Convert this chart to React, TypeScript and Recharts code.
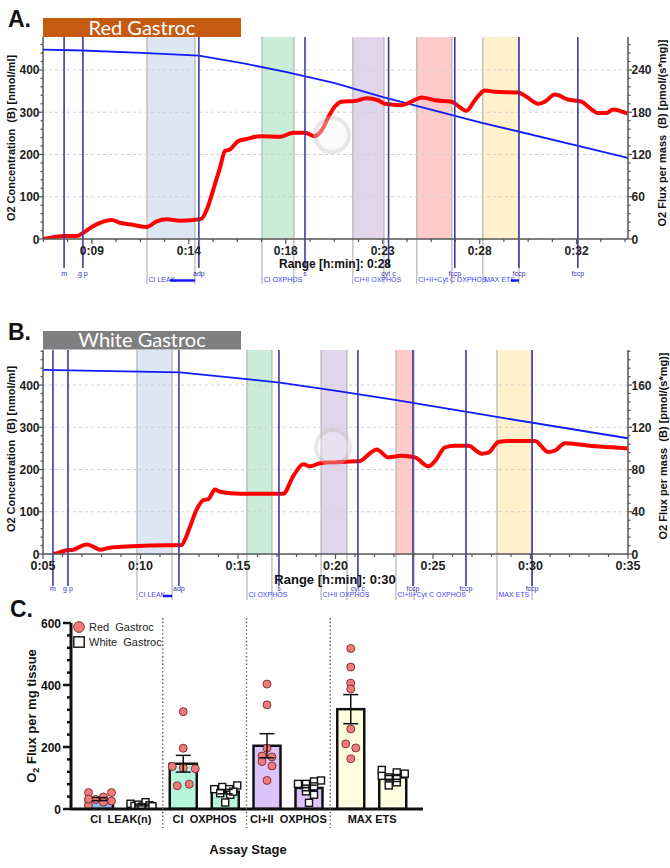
import React from 'react';
import {
  Bar,
  BarChart,
  ComposedChart,
  ErrorBar,
  Legend,
  Line,
  ReferenceArea,
  ReferenceLine,
  XAxis,
  YAxis,
} from 'recharts';

const FONT = '"Liberation Sans", Arial, sans-serif';

// ---------- Panel A: Red Gastroc trace (time in minutes) ----------
const fluxTimeA = [6.67, 7.15, 7.63, 8.27, 8.59, 8.99, 9.39, 9.95, 10.34, 10.98, 11.62, 12.1, 12.58, 13.22, 13.85, 14.25, 14.49, 14.81, 15.13, 15.37, 15.61, 15.77, 16.0, 16.41, 17.04, 18.0, 18.64, 19.2, 19.67, 19.99, 20.39, 20.63, 20.95, 21.59, 22.15, 22.7, 23.02, 23.82, 24.3, 24.78, 25.42, 26.22, 26.61, 26.93, 27.33, 27.81, 28.29, 29.4, 29.8, 30.36, 30.68, 31.16, 31.79, 32.43, 32.75, 33.23, 33.63, 33.95, 34.27, 34.64];
const fluxA = [0, 2.4, 4.2, 4.2, 9, 17, 23, 27, 23, 20, 17, 25, 28, 26, 27, 29, 41, 70, 101, 125, 127, 132, 139, 142, 146, 145, 151, 151, 146, 154, 177, 188, 195, 196, 200, 197, 192, 190, 195, 201, 197, 195, 187, 182, 197, 211, 209, 208, 202, 192, 195, 205, 198, 195, 188, 179, 179, 184, 182, 178];
const o2TimeA = [6.66, 8.57, 11.64, 14.12, 16.2, 18.33, 20.63, 22.93, 27.67, 34.66];
const o2A = [448, 446, 440, 434, 416, 395, 369, 336, 275, 192];
const xMajorA = [9, 13.64, 18.28, 22.92, 27.56, 32.2];
const xLabelsA = ['0:09', '0:14', '0:18', '0:23', '0:28', '0:32'];
const eventTimesA = [7.67, 8.57, 14.12, 19.2, 23.2, 26.37, 29.44, 32.26];
const bandStartA = [11.64, 17.14, 21.49, 24.55, 27.71];
const bandEndA = [13.93, 18.67, 22.98, 26.23, 29.44];
const selStartA = [12.74, null, null, null, 29.05];

// ---------- Panel B: White Gastroc trace ----------
const fluxTimeB = [5.53, 5.78, 6.21, 6.55, 6.9, 7.24, 7.58, 7.92, 8.44, 9.29, 10.49, 12.11, 12.28, 12.54, 12.88, 13.22, 13.48, 13.82, 14.08, 15.1, 17.32, 17.84, 18.35, 18.69, 19.21, 19.97, 21.26, 21.68, 22.11, 22.71, 23.39, 24.08, 24.76, 25.1, 25.62, 26.13, 26.81, 27.5, 27.84, 28.35, 28.86, 30.23, 30.91, 31.26, 31.77, 32.63, 33.31, 34.16, 34.98];
const fluxB = [0, 1, 3.5, 4, 7, 9, 7, 4, 6, 7, 8, 8.5, 13.6, 26, 42, 51, 52, 61, 59, 57, 57, 74, 85, 83, 86, 87, 88, 94, 99, 91.5, 93, 91.5, 83, 88, 101, 102.5, 102.5, 95, 96, 106, 107, 107, 96.5, 98, 105, 103.5, 102, 101, 100];
const o2TimeB = [5.02, 12.03, 15.45, 17.15, 19.97, 23.05, 28.35, 35];
const o2B = [436, 430, 414, 406, 387, 365, 324, 274];
const xMajorB = [5, 10, 15, 20, 25, 30, 35];
const xLabelsB = ['0:05', '0:10', '0:15', '0:20', '0:25', '0:30', '0:35'];
const eventTimesB = [5.51, 6.28, 11.97, 17.1, 21.15, 23.97, 26.69, 30.08];
const bandStartB = [9.82, 15.46, 19.26, 23.1, 28.28];
const bandEndB = [11.62, 16.74, 20.59, 24.03, 30.08];
const selStartB = [11.15, null, null, null, null];

const eventNames = ['m', 'g p', 'adp', 's', 'cyt c', 'fccp', 'fccp', 'fccp'];
const bandNames = ['CI LEAK', 'CI OXPHOS', 'CI+II OXPHOS', 'CI+II+Cyt C OXPHOS', 'MAX ETS'];
const bandFills = ['#dce7f3', '#c9edd8', '#e1d5ec', '#ffcaca', '#fff1cc'];

// ---------- Panel C: summary bars ----------
const stages = ['CI  LEAK(n)', 'CI  OXPHOS', 'CI+II  OXPHOS', 'MAX ETS'];
const seriesNames = ['Red  Gastroc', 'White  Gastroc'];
const redMean = [32, 146, 204, 322];
const whiteMean = [13, 56, 68, 102];
const redSem = [5, 27, 39, 47];
const whiteSem = [3, 7, 9, 6];
const redPoints = [
  [53, 12, 31, 32, 39, 22, 53, 26],
  [314, 196, 137, 132, 130, 75, 80],
  [403, 336, 196, 171, 168, 153, 139, 92],
  [518, 458, 406, 387, 258, 210, 197, 162],
];
const whitePoints = [
  [17, 10, 14, 8, 22, 12, 9, 6],
  [64, 71, 64, 76, 51, 46, 21, 56],
  [81, 81, 89, 92, 57, 73, 46, 20],
  [126, 107, 102, 118, 114, 86, 76, 100],
];
const redJitter = [
  [-11, -11, -4, -11, 4, 4, 12, 12],
  [0, 0, -11, 0, 12, -6, 6],
  [0, 0, 0, -5, 5, -5, 5, 0],
  [0, 0, 0, 0, 0, -5, 5, 0],
];
const whiteJitter = [
  [-11, -7, -3, 1, 4, 8, 11, 0],
  [-11, -3, 4, 12, -5, 5, 0, 8],
  [-11, -3, 5, 12, -3, 5, 5, 0],
  [-11, -11, -4, 4, 12, 4, -4, 4],
];
const stageFills = ['#8fb8ec', '#b4f5dc', '#dcc3fa', '#fffde0'];

const C_PLOT_H = 186; // plot height of panel C (268 - 23 - 29 - 30)

function stepTicks(lo: number, hi: number, step: number) {
  const out: number[] = [];
  for (let v = lo; v <= hi + 1e-9; v += step) out.push(Math.round(v * 1000) / 1000);
  return out;
}

type Offs = { evLine: number; evLabel: number; edge: number; bandLabel: number; sel: number };

function TimeTick(props: any) {
  const { x, y, payload, majors, labels, fontSize, dy } = props;
  const i = majors.findIndex((m: number) => Math.abs(m - payload.value) < 0.01);
  return (
    <g>
      <line x1={x} x2={x} y1={y} y2={y + (i >= 0 ? 5 : 3)} stroke="#555" strokeWidth={1.2} />
      {i >= 0 && (
        <text x={x} y={y + dy} textAnchor="middle" fontSize={fontSize} fontWeight="bold" fill="#222" fontFamily={FONT}>
          {labels[i]}
        </text>
      )}
    </g>
  );
}

function ValueTick(props: any) {
  const { x, y, payload, side, every } = props;
  const v = payload.value;
  const major = Math.abs(v / every - Math.round(v / every)) < 1e-6;
  const dir = side === 'left' ? -1 : 1;
  return (
    <g>
      <line x1={x} x2={x + dir * (major ? 4 : 2.5)} y1={y} y2={y} stroke="#555" strokeWidth={1.2} />
      {major && (
        <text x={x + dir * 3.5} y={y + 4.5} textAnchor={side === 'left' ? 'end' : 'start'} fontSize={12} fontWeight="bold" fill="#222" fontFamily={FONT}>
          {v}
        </text>
      )}
    </g>
  );
}

const eventShape = (name: string, o: Offs) => (p: any) => {
  const top = Math.min(p.y1, p.y2);
  const bot = Math.max(p.y1, p.y2);
  return (
    <g>
      <line x1={p.x1} x2={p.x1} y1={top} y2={bot + o.evLine} stroke="#3b3ba6" strokeWidth={1.6} />
      <text x={p.x1} y={bot + o.evLabel} textAnchor="middle" fontSize={7} fill="#3434b0" fontFamily={FONT}>
        {name}
      </text>
    </g>
  );
};

const bandShape = (name: string, fill: string, o: Offs) => (p: any) => {
  const x = Math.min(p.x, p.x + p.width);
  const w = Math.abs(p.width);
  const top = Math.min(p.y, p.y + p.height);
  const bot = Math.max(p.y, p.y + p.height);
  return (
    <g>
      <rect x={x} y={top} width={w} height={bot - top} fill={fill} />
      <line x1={x} x2={x} y1={top} y2={bot + o.edge} stroke="#b4b4b4" strokeWidth={1.2} />
      <line x1={x + w} x2={x + w} y1={top} y2={bot + o.edge} stroke="#b4b4b4" strokeWidth={1.2} />
      <text x={x + 1.5} y={bot + o.bandLabel} fontSize={7} fill="#4646f2" fontFamily={FONT}>
        {name}
      </text>
    </g>
  );
};

const selShape = (o: Offs) => (p: any) => {
  const x = Math.min(p.x, p.x + p.width);
  const bot = Math.max(p.y, p.y + p.height);
  return <line x1={x} x2={x + Math.abs(p.width)} y1={bot + o.sel} y2={bot + o.sel} stroke="#1616ff" strokeWidth={2.5} />;
};

type TraceProps = {
  top: number;
  height: number;
  marginTop: number;
  marginBottom: number;
  fluxTime: number[];
  flux: number[];
  o2Time: number[];
  o2: number[];
  xDomain: [number, number];
  xMajor: number[];
  xLabels: string[];
  xStep: number;
  xFont: number;
  xDy: number;
  leftMax: number;
  rightMax: number;
  rightEvery: number;
  rightStep: number;
  events: number[];
  bandStart: number[];
  bandEnd: number[];
  selStart: (number | null)[];
  offs: Offs;
};

function TracePanel(p: TraceProps) {
  const fluxData = p.fluxTime.map((t, i) => ({ t, flux: p.flux[i] }));
  const o2Data = p.o2Time.map((t, i) => ({ t, o2: p.o2[i] }));
  const firstTick = p.xMajor[0] - Math.floor((p.xMajor[0] - p.xDomain[0]) / p.xStep + 1e-6) * p.xStep;
  const xTicks = stepTicks(firstTick, p.xDomain[1], p.xStep);
  return (
    <div style={{ position: 'absolute', left: 0, top: p.top }}>
      <ComposedChart width={670} height={p.height} margin={{ top: p.marginTop, right: 0, bottom: p.marginBottom, left: 0 }}>
        <XAxis
          type="number"
          dataKey="t"
          domain={p.xDomain}
          allowDataOverflow
          ticks={xTicks}
          interval={0}
          height={30}
          tickLine={false}
          tickSize={0}
          tickMargin={0}
          axisLine={{ stroke: '#555', strokeWidth: 1.5 }}
          tick={(tp: any) => <TimeTick {...tp} majors={p.xMajor} labels={p.xLabels} fontSize={p.xFont} dy={p.xDy} />}
        />
        <YAxis
          yAxisId="left"
          domain={[0, p.leftMax]}
          allowDataOverflow
          ticks={stepTicks(0, p.leftMax, 20)}
          interval={0}
          width={43}
          tickLine={false}
          tickSize={0}
          tickMargin={0}
          axisLine={{ stroke: '#555', strokeWidth: 1.5 }}
          tick={(tp: any) => <ValueTick {...tp} side="left" every={100} />}
        />
        <YAxis
          yAxisId="right"
          orientation="right"
          domain={[0, p.rightMax]}
          allowDataOverflow
          ticks={stepTicks(0, p.rightMax, p.rightStep)}
          interval={0}
          width={42}
          tickLine={false}
          tickSize={0}
          tickMargin={0}
          axisLine={{ stroke: '#555', strokeWidth: 1.5 }}
          tick={(tp: any) => <ValueTick {...tp} side="right" every={p.rightEvery} />}
        />
        {p.bandStart.map((s, i) => (
          <ReferenceArea key={`b${i}`} yAxisId="left" x1={s} x2={p.bandEnd[i]} shape={bandShape(bandNames[i], bandFills[i], p.offs)} />
        ))}
        {p.selStart.map((s, i) =>
          s === null ? null : <ReferenceArea key={`s${i}`} yAxisId="left" x1={s} x2={p.bandEnd[i]} shape={selShape(p.offs)} />,
        )}
        {[100, 200, 300, 400].map((v) => (
          <ReferenceLine key={`g${v}`} yAxisId="left" y={v} stroke="#cfcfcf" strokeDasharray="3 3" />
        ))}
        <Line data={o2Data} dataKey="o2" yAxisId="left" type="linear" stroke="#0f1cff" strokeWidth={1.8} dot={false} isAnimationActive={false} />
        <Line
          data={fluxData}
          dataKey="flux"
          yAxisId="right"
          type="monotone"
          stroke="#ff0000"
          strokeWidth={4}
          strokeLinejoin="round"
          dot={false}
          isAnimationActive={false}
        />
        {p.events.map((t, i) => (
          <ReferenceLine key={`e${i}`} yAxisId="left" x={t} shape={eventShape(eventNames[i], p.offs)} />
        ))}
      </ComposedChart>
    </div>
  );
}

const dotsShape = (kind: 'red' | 'white') => (p: any) => {
  const { x, y, width, height, payload } = p;
  const i = stages.indexOf(payload.stage);
  const mean = kind === 'red' ? payload.red : payload.white;
  const zeroY = y + height;
  const perUnit = mean ? height / mean : 0;
  const pts = (kind === 'red' ? redPoints : whitePoints)[i];
  const jit = (kind === 'red' ? redJitter : whiteJitter)[i];
  const cx = x + width / 2;
  return (
    <g>
      <rect x={x} y={y} width={width} height={height} fill={stageFills[i]} stroke="#111" strokeWidth={2.5} />
      {pts.map((v, k) =>
        kind === 'red' ? (
          <circle key={k} cx={cx + jit[k]} cy={zeroY - v * perUnit} r={4} fill="#f07b7b" stroke="#6a1a1a" strokeWidth={0.8} />
        ) : (
          <rect key={k} x={cx + jit[k] - 3.5} y={zeroY - v * perUnit - 3.5} width={7} height={7} fill="#fff" stroke="#111" strokeWidth={1.4} />
        ),
      )}
    </g>
  );
};

function CountTick(props: any) {
  const { x, y, payload } = props;
  const v = payload.value;
  const major = v % 200 === 0;
  return (
    <g>
      <line x1={x} x2={x - (major ? 8 : 4)} y1={y} y2={y} stroke="#111" strokeWidth={2.5} />
      {major && (
        <text x={x - 10} y={y + 4.5} textAnchor="end" fontSize={12} fontWeight="bold" fill="#111" fontFamily={FONT}>
          {v}
        </text>
      )}
    </g>
  );
}

// category label, plus the dotted divider on the left edge of every band but the first
function StageTick(props: any) {
  const { x, y, payload } = props;
  const idx = stages.indexOf(payload.value);
  const half = typeof payload.offset === 'number' ? payload.offset : 0;
  return (
    <g>
      {idx > 0 && half > 0 && (
        <line x1={x - half} x2={x - half} y1={y - C_PLOT_H - 5} y2={y + 19} stroke="#555" strokeWidth={1.4} strokeDasharray="1.4 2.4" />
      )}
      <text x={x} y={y + 14} textAnchor="middle" fontSize={11} fontWeight="bold" fill="#111" fontFamily={FONT} style={{ whiteSpace: 'pre' }}>
        {payload.value}
      </text>
    </g>
  );
}

function LegendBox(props: any) {
  const names = props.payload && props.payload.length === 2 ? props.payload.map((e: any) => e.value) : seriesNames;
  return (
    <div style={{ fontFamily: FONT, fontSize: 11, color: '#222', lineHeight: '14px' }}>
      <div style={{ display: 'flex', alignItems: 'center', height: 14 }}>
        <svg width={12} height={12}>
          <circle cx={6} cy={6} r={5.4} fill="#f07b7b" stroke="#6a1a1a" strokeWidth={0.8} />
        </svg>
        <span style={{ marginLeft: 4, whiteSpace: 'pre' }}>{names[0]}</span>
      </div>
      <div style={{ display: 'flex', alignItems: 'center', height: 16 }}>
        <svg width={12} height={12}>
          <rect x={0.8} y={0.8} width={10.4} height={10.4} fill="#fff" stroke="#111" strokeWidth={1.4} />
        </svg>
        <span style={{ marginLeft: 4, whiteSpace: 'pre' }}>{names[1]}</span>
      </div>
    </div>
  );
}

function SummaryPanel() {
  const data = stages.map((stage, i) => ({
    stage,
    red: redMean[i],
    white: whiteMean[i],
    redErr: redSem[i],
    whiteErr: whiteSem[i],
  }));
  return (
    <div style={{ position: 'absolute', left: 0, top: 600 }}>
      <BarChart width={670} height={268} data={data} margin={{ top: 23, right: 247, bottom: 29, left: 0 }} barSize={27} barGap={15}>
        <XAxis
          dataKey="stage"
          type="category"
          padding={{ left: 8, right: 9 }}
          height={30}
          interval={0}
          tickLine={false}
          tickSize={0}
          tickMargin={0}
          axisLine={{ stroke: '#111', strokeWidth: 3 }}
          tick={StageTick}
        />
        <YAxis
          domain={[0, 600]}
          allowDataOverflow
          ticks={stepTicks(0, 600, 40)}
          interval={0}
          width={71}
          tickLine={false}
          tickSize={0}
          tickMargin={0}
          axisLine={{ stroke: '#111', strokeWidth: 3 }}
          tick={CountTick}
        />
        <Bar dataKey="red" name={seriesNames[0]} fill="#f07b7b" shape={dotsShape('red')} isAnimationActive={false}>
          <ErrorBar dataKey="redErr" width={7.5} stroke="#111" strokeWidth={1.5} isAnimationActive={false} />
        </Bar>
        <Bar dataKey="white" name={seriesNames[1]} fill="#ffffff" shape={dotsShape('white')} isAnimationActive={false}>
          <ErrorBar dataKey="whiteErr" width={7.5} stroke="#111" strokeWidth={1.5} isAnimationActive={false} />
        </Bar>
        <Legend
          layout="vertical"
          align="center"
          verticalAlign="middle"
          wrapperStyle={{ top: 20, left: 73, width: 'auto', height: 'auto' }}
          content={LegendBox}
        />
      </BarChart>
    </div>
  );
}

const offsA: Offs = { evLine: 29, evLabel: 36.5, edge: 45, bandLabel: 43, sel: 41.5 };
const offsB: Offs = { evLine: 32, evLabel: 37, edge: 46, bandLabel: 43, sel: 42 };

function Overlay() {
  const title = { fontFamily: FONT, fontWeight: 'bold' as const, fill: '#111' };
  return (
    <svg width={670} height={868} style={{ position: 'absolute', left: 0, top: 0, pointerEvents: 'none' }}>
      <text x={8} y={27} fontSize={23} {...title}>A.</text>
      <text x={8} y={340} fontSize={23} {...title}>B.</text>
      <text x={10} y={617} fontSize={23} {...title}>C.</text>

      <rect x={43} y={18} width={198} height={19} fill="#c55a11" />
      <text x={142} y={35} textAnchor="middle" fontSize={20} fill="#fff" fontFamily="Lato, sans-serif">Red Gastroc</text>
      <rect x={43} y={331} width={198} height={18.5} fill="#7f7f7f" />
      <text x={142} y={347} textAnchor="middle" fontSize={20} fill="#fff" fontFamily="Lato, sans-serif">White Gastroc</text>

      <g opacity={0.4}>
        <circle cx={332} cy={135} r={17} fill="#f4f4f4" stroke="#c4c4c4" strokeWidth={4} />
        <circle cx={333} cy={447} r={17} fill="#f4f4f4" stroke="#c4c4c4" strokeWidth={4} />
      </g>

      <text transform="translate(15,138) rotate(-90)" textAnchor="middle" fontSize={11} {...title} style={{ whiteSpace: 'pre' }}>
        O2 Concentration  (B) [nmol/ml]
      </text>
      <text transform="translate(666,133) rotate(-90)" textAnchor="middle" fontSize={11} {...title} style={{ whiteSpace: 'pre' }}>
        O2 Flux per mass  (B) [pmol/(s*mg)]
      </text>
      <text transform="translate(15,449) rotate(-90)" textAnchor="middle" fontSize={11} {...title} style={{ whiteSpace: 'pre' }}>
        O2 Concentration  (B) [nmol/ml]
      </text>
      <text transform="translate(667,446) rotate(-90)" textAnchor="middle" fontSize={11} {...title} style={{ whiteSpace: 'pre' }}>
        O2 Flux per mass  (B) [pmol/(s*mg)]
      </text>

      <text x={335} y={267.5} textAnchor="middle" fontSize={12} {...title}>Range [h:min]: 0:28</text>
      <text x={335} y={583.5} textAnchor="middle" fontSize={13} {...title}>Range [h:min]: 0:30</text>

      <text transform="translate(36,716) rotate(-90)" textAnchor="middle" fontSize={13} {...title}>
        O<tspan fontSize={9} dy={3}>2</tspan>
        <tspan dy={-3}> Flux per mg tissue</tspan>
      </text>
      <text x={248} y={854} textAnchor="middle" fontSize={13} {...title}>Assay Stage</text>
    </svg>
  );
}

export default function App() {
  return (
    <div style={{ position: 'absolute', left: 0, top: 0, width: 670, height: 868, background: '#fff' }}>
      <TracePanel
        top={0}
        height={300}
        marginTop={37}
        marginBottom={31}
        fluxTime={fluxTimeA}
        flux={fluxA}
        o2Time={o2TimeA}
        o2={o2A}
        xDomain={[6.66, 34.66]}
        xMajor={xMajorA}
        xLabels={xLabelsA}
        xStep={1.16}
        xFont={12}
        xDy={16}
        leftMax={478}
        rightMax={286.8}
        rightEvery={60}
        rightStep={12}
        events={eventTimesA}
        bandStart={bandStartA}
        bandEnd={bandEndA}
        selStart={selStartA}
        offs={offsA}
      />
      <TracePanel
        top={300}
        height={310}
        marginTop={50}
        marginBottom={26}
        fluxTime={fluxTimeB}
        flux={fluxB}
        o2Time={o2TimeB}
        o2={o2B}
        xDomain={[5, 35]}
        xMajor={xMajorB}
        xLabels={xLabelsB}
        xStep={1}
        xFont={12.5}
        xDy={16}
        leftMax={483}
        rightMax={193.2}
        rightEvery={40}
        rightStep={8}
        events={eventTimesB}
        bandStart={bandStartB}
        bandEnd={bandEndB}
        selStart={selStartB}
        offs={offsB}
      />
      <SummaryPanel />
      <Overlay />
    </div>
  );
}
